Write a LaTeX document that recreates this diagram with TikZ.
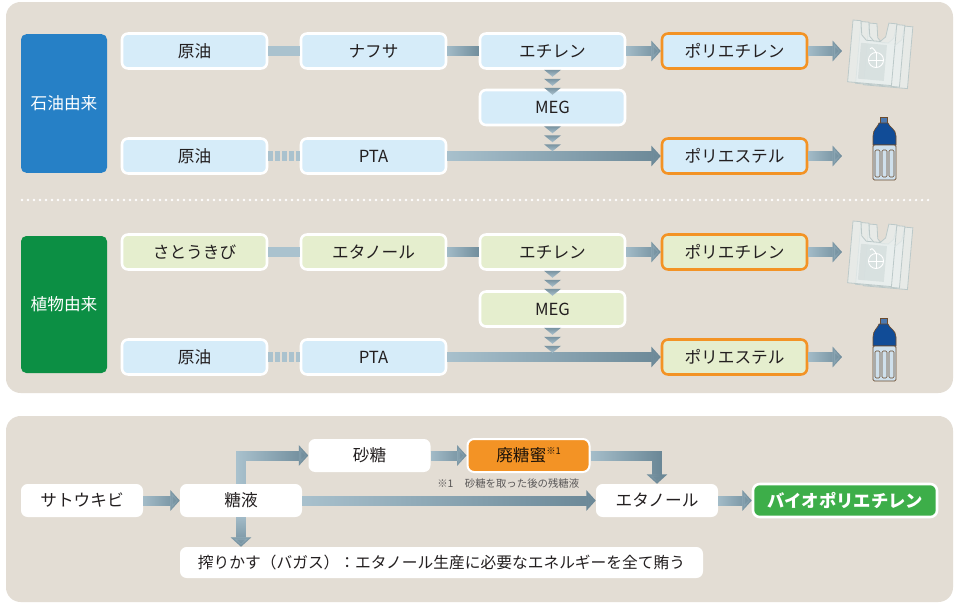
\documentclass[tikz,border=0pt]{standalone}
\usepackage{fontspec}
\setmainfont{Noto Sans CJK JP}
\usetikzlibrary{arrows.meta, fadings}

\definecolor{panelbg}{HTML}{E3DDD4}
\definecolor{oilblue}{HTML}{2680C6}
\definecolor{plantgreen}{HTML}{0C8F44}
\definecolor{oilfill}{HTML}{D6ECF9}
\definecolor{plantfill}{HTML}{E5EECE}
\definecolor{prodline}{HTML}{F39325}
\definecolor{biogreen}{HTML}{3DAE49}
\definecolor{flowdark}{HTML}{6A8796}
\definecolor{flowlight}{HTML}{AAC2CE}
\definecolor{inktext}{HTML}{231F20}
\definecolor{notetext}{HTML}{595757}
\definecolor{bagfill}{HTML}{E9EFEE}
\definecolor{bagedge}{HTML}{BCC9C9}
\definecolor{bottleblue}{HTML}{114C97}
\definecolor{bottleline}{HTML}{6B4A2C}
\definecolor{bottlebody}{HTML}{CFE0EC}

\tikzfading[name=flowfade, left color=transparent!0, right color=transparent!100]
\tikzfading[name=flowfadedown, top color=transparent!0, bottom color=transparent!100]

\newcommand{\boxfont}{\fontsize{12.5}{14}\selectfont}
\tikzstyle{origin} = [rectangle,
                      rounded corners=4pt,
                      minimum width=64.5pt,
                      minimum height=104pt,
                      text=white,
                      font=\boxfont,
                     ]
\tikzstyle{oilstage} = [rectangle,
                        rounded corners=4.5pt,
                        minimum width=108.75pt,
                        minimum height=26.25pt,
                        fill=oilfill,
                        draw=white,
                        line width=1.9pt,
                        text=inktext,
                        font=\boxfont,
                       ]
\tikzstyle{plantstage} = [oilstage, fill=plantfill]
\tikzstyle{product} = [draw=prodline]
\tikzstyle{plainbox} = [rectangle,
                        rounded corners=5pt,
                        minimum width=91.5pt,
                        minimum height=24.75pt,
                        fill=white,
                        text=inktext,
                        font=\boxfont,
                       ]
\tikzstyle{link} = [line width=7.5pt, draw=flowlight]
\tikzstyle{dashlink} = [link, dash pattern=on 3.75pt off 1.5pt]
\tikzstyle{flowbar} = [line width=7.5pt, draw=flowdark,
                       postaction={draw=flowlight, path fading=flowfade}]
\tikzstyle{arrow} = [flowbar, -{Triangle[length=7pt,width=15pt]}]
\tikzstyle{arrowdown} = [line width=7.5pt, draw=flowdark,
                         postaction={draw=flowlight, path fading=flowfadedown},
                         -{Triangle[length=7pt,width=15pt]}]
\tikzstyle{chevron} = [top color=flowdark!90, bottom color=flowlight]
\tikzstyle{bag} = [fill=bagfill, fill opacity=0.75, draw=bagedge, line width=0.6pt]

% three small down-pointing triangles under a box
\newcommand{\chevrons}[1]{%
  \foreach \d in {0,9,18}
    \shade [chevron, shift={(#1.south)}] (-8.5,\d) -- (8.5,\d) -- (0,\d+7) -- cycle;}
\newcommand{\bagshape}{(0,0) -- (8,0) -- (10,14) -- (15,19) -- (29,19) -- (34,14) -- (36,0) -- (44,0) -- (44,62) -- (0,62) -- cycle}

\begin{document}
\begin{tikzpicture}[x=0.75pt, y=-0.75pt, node distance=134.25pt]

\useasboundingbox [fill=white] (0,0) rectangle (956,603);
\fill [panelbg, rounded corners=11pt] (6,2) rectangle (953,393);
\fill [panelbg, rounded corners=11pt] (6,416) rectangle (953,602);
\draw [white, line width=1.9pt, line cap=round, dash pattern=on 0pt off 4.5pt] (22,200) -- (930,200);

% petroleum route
\node (src_p) [origin, fill=oilblue] at (64,103.5) {石油由来};
\node (crude_p) [oilstage] at (194.5,51) {原油};
\node (naphtha_p) [oilstage, right of =crude_p] {ナフサ};
\node (ethylene_p) [oilstage, right of =naphtha_p] {エチレン};
\node (pe_p) [oilstage, product, right of =ethylene_p, xshift=2.25pt] {ポリエチレン};
\node (meg_p) [oilstage] at (552.5,107.5) {MEG};
\node (oil_p) [oilstage] at (194.5,156) {原油};
\node (pta_p) [oilstage, right of =oil_p] {PTA};
\node (pes_p) [oilstage, product] at (734.5,156) {ポリエステル};
\coordinate (bag_p) at (842,51);
\coordinate (bottle_p) at (842,156);

% plant route
\node (src_b) [origin, fill=plantgreen, minimum height=102.75pt] at (64,304.5) {植物由来};
\node (cane_b) [plantstage] at (194.5,252) {さとうきび};
\node (ethanol_b) [plantstage, right of =cane_b] {エタノール};
\node (ethylene_b) [plantstage, right of =ethanol_b] {エチレン};
\node (pe_b) [plantstage, product, right of =ethylene_b, xshift=2.25pt] {ポリエチレン};
\node (meg_b) [plantstage] at (552.5,309) {MEG};
\node (oil_b) [oilstage] at (194.5,357) {原油};
\node (pta_b) [oilstage, right of =oil_b] {PTA};
\node (pes_b) [plantstage, product] at (734.5,357) {ポリエステル};
\coordinate (bag_b) at (842,252);
\coordinate (bottle_b) at (842,357);

\draw [link] (crude_p) -- (naphtha_p);
\draw [flowbar] (naphtha_p) -- (ethylene_p);
\draw [arrow] (ethylene_p) -- (pe_p);
\draw [dashlink] (oil_p) -- (pta_p);
\draw [arrow] (pta_p) -- (pes_p);
\draw [arrow] (pe_p) -- (bag_p);
\draw [arrow] (pes_p) -- (bottle_p);
\chevrons{ethylene_p}
\chevrons{meg_p}

\draw [link] (cane_b) -- (ethanol_b);
\draw [flowbar] (ethanol_b) -- (ethylene_b);
\draw [arrow] (ethylene_b) -- (pe_b);
\draw [dashlink] (oil_b) -- (pta_b);
\draw [arrow] (pta_b) -- (pes_b);
\draw [arrow] (pe_b) -- (bag_b);
\draw [arrow] (pes_b) -- (bottle_b);
\chevrons{ethylene_b}
\chevrons{meg_b}

% carrier bags and bottles
\foreach \y in {20,221} {
  \foreach \dx/\dy in {16/3, 8/1.5, 0/0}
    \filldraw [bag, shift={(853+\dx,\y+\dy)}, rotate=-5] \bagshape;
  \fill [bagedge, opacity=0.35, shift={(853,\y)}, rotate=-5] (10,22) rectangle (36,58);
  \draw [white, line width=0.7pt] (876,\y+40) circle (7.5);
  \draw [white, line width=0.7pt] (869,\y+40) -- (883,\y+40) (876,\y+33) -- (876,\y+47);
  \draw [white, line width=0.7pt] (876,\y+32) .. controls (872,\y+27) .. (870,\y+29);
}
\foreach \y in {0,201} {
  \filldraw [fill=bottleblue!75, draw=bottleline, line width=0.5pt] (880,117+\y) rectangle (887,123+\y);
  \filldraw [fill=bottleblue, draw=bottleline, line width=0.5pt]
    (873,145+\y) -- (873,136+\y) .. controls (873,129+\y) and (878,127+\y) .. (879,123+\y)
    -- (888,123+\y) .. controls (889,127+\y) and (896,129+\y) .. (896,136+\y) -- (896,145+\y) -- cycle;
  \filldraw [fill=bottlebody, draw=bottleline, line width=0.5pt, rounded corners=1pt] (873,145+\y) rectangle (896,180+\y);
  \foreach \px in {875,882,889}
    \draw [bottleline, line width=0.4pt, rounded corners=1pt] (\px,150+\y) rectangle (\px+5,177+\y);
}

% sugar cane to bio polyethylene
\node (cane) [plainbox] at (82,500.5) {サトウキビ};
\node (juice) [plainbox] at (241,500.5) {糖液};
\node (sugar) [plainbox] at (369.5,455.5) {砂糖};
\node (molasses) [plainbox, fill=prodline, draw=white, line width=1.5pt, text=black!85!brown]
  at (528.5,455.5) {廃糖蜜\raisebox{0.45em}{\fontsize{7}{8}\selectfont ※1}};
\node (note) [anchor=west, inner sep=0pt, text=notetext, font=\fontsize{7.8}{9}\selectfont]
  at (437,483) {※1\hspace{1.1em}砂糖を取った後の残糖液};
\node (ethanol) [plainbox] at (657,500.5) {エタノール};
\node (biope) [plainbox, fill=biogreen, draw=white, line width=1.9pt, minimum width=138pt,
  text=white, font=\fontsize{13}{15}\selectfont\bfseries] at (845,500.5) {バイオポリエチレン};
\node (bagasse) [plainbox, minimum width=392.25pt, minimum height=23.25pt,
  font=\fontsize{11.8}{14}\selectfont] at (441.5,562.5)
  {搾りかす（バガス）：エタノール生産に必要なエネルギーを全て賄う};

\draw [arrow] (cane) -- (juice);
\draw [arrow] (juice.north) |- (sugar);
\draw [arrow] (sugar) -- (molasses);
\draw [arrow] (molasses) -| (ethanol);
\draw [arrow] (juice) -- (ethanol);
\draw [arrowdown] (juice.south) -- (juice.south |- bagasse.north);
\draw [arrow] (ethanol) -- (biope);

\end{tikzpicture}
\end{document}
